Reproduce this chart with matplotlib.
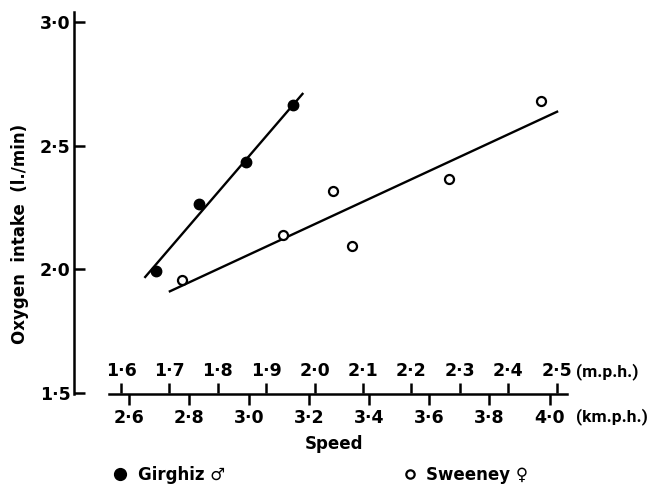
import matplotlib
matplotlib.use("Agg")
import matplotlib.pyplot as plt
from matplotlib.lines import Line2D

plt.rcParams['font.family'] = ['DejaVu Sans']
plt.rcParams['font.weight'] = 'bold'

# ---- data (speed in m.p.h., oxygen intake in l./min) ----
girghiz_mph = [1.672, 1.762, 1.859, 1.955]
girghiz_o2 = [1.994, 2.262, 2.435, 2.666]
girghiz_fit_mph = [1.650, 1.975]
girghiz_fit_o2 = [1.969, 2.709]

sweeney_mph = [1.725, 1.935, 2.037, 2.077, 2.278, 2.467]
sweeney_o2 = [1.957, 2.140, 2.316, 2.093, 2.363, 2.681]
sweeney_fit_mph = [1.701, 2.501]
sweeney_fit_o2 = [1.911, 2.637]

y_ticks = [1.5, 2.0, 2.5, 3.0]
y_labels = ['1·5', '2·0', '2·5', '3·0']
mph_ticks = [1.6, 1.7, 1.8, 1.9, 2.0, 2.1, 2.2, 2.3, 2.4, 2.5]
mph_labels = ['1·6', '1·7', '1·8', '1·9', '2·0', '2·1', '2·2', '2·3', '2·4', '2·5']
kmph_ticks = [2.6, 2.8, 3.0, 3.2, 3.4, 3.6, 3.8, 4.0]
kmph_labels = ['2·6', '2·8', '3·0', '3·2', '3·4', '3·6', '3·8', '4·0']
KM_PER_MILE = 1.609344

# ---- layout ----
W, H = 649, 487
fig = plt.figure(figsize=(W / 100, H / 100), dpi=100)

left_px, right_px = 73.5, 575.0
bottom_px, top_px = 393.5, 12.0
xlim = (1.6 + (left_px - 121) / 484, 1.6 + (right_px - 121) / 484)
ylim = (1.498, 3.04)

ax_rect = [left_px / W, 1 - bottom_px / H, (right_px - left_px) / W,
           (bottom_px - top_px) / H]
ax = fig.add_axes(ax_rect)
ax.set_xlim(*xlim)
ax.set_ylim(*ylim)

for s in ['top', 'right']:
    ax.spines[s].set_visible(False)
ax.spines['left'].set_linewidth(1.8)
ax.spines['bottom'].set_linewidth(1.8)
ax.spines['bottom'].set_bounds(1.6 + (109 - 121) / 484, 1.6 + (567 - 121) / 484)
ax.set_xticks([])
ax.set_yticks(y_ticks)
ax.set_yticklabels(y_labels)
ax.tick_params(axis='y', direction='in', length=8, width=1.8, pad=2,
               labelsize=12.5)

# data
ax.plot(girghiz_fit_mph, girghiz_fit_o2, color='black', lw=1.7)
ax.plot(sweeney_fit_mph, sweeney_fit_o2, color='black', lw=1.7)
ax.plot(girghiz_mph, girghiz_o2, 'o', color='black', markersize=7.5)
ax.plot(sweeney_mph, sweeney_o2, 'o', mfc='white', mec='black', mew=1.6,
        markersize=6.5)

# mph scale (above the axis line)
axm = fig.add_axes([ax_rect[0], ax_rect[1], ax_rect[2], 1e-6])
axm.set_xlim(*xlim)
axm.patch.set_visible(False)
for s in axm.spines.values():
    s.set_visible(False)
axm.set_yticks([])
axm.xaxis.tick_top()
axm.set_xticks(mph_ticks)
axm.set_xticklabels(mph_labels)
axm.tick_params(axis='x', direction='out', length=7.5, width=1.8, pad=2,
                labelsize=12.5)

# km.p.h. scale (below the axis line)
axk = fig.add_axes([ax_rect[0], ax_rect[1], ax_rect[2], 1e-6])
axk.set_xlim(xlim[0] * KM_PER_MILE, xlim[1] * KM_PER_MILE)
axk.patch.set_visible(False)
for s in axk.spines.values():
    s.set_visible(False)
axk.set_yticks([])
axk.set_xticks(kmph_ticks)
axk.set_xticklabels(kmph_labels)
axk.tick_params(axis='x', direction='out', length=8, width=1.8, pad=3,
                labelsize=12.5)

# texts
unit_font = dict(family=['Roboto', 'DejaVu Sans'], weight='bold', fontsize=12.5)
fig.text(576 / W, 1 - 372 / H, '(m.p.h.)', ha='left', va='center', **unit_font)
fig.text(576 / W, 1 - 417 / H, '(km.p.h.)', ha='left', va='center', **unit_font)
fig.text(334.5 / W, 1 - 444 / H, 'Speed', ha='center', va='center', fontsize=12)
fig.text(20 / W, 1 - 234 / H, 'Oxygen  intake  (l./min)', rotation=90,
         ha='center', va='center', fontsize=12)

# legend
h1 = Line2D([], [], ls='none', marker='o', color='black', markersize=8.5)
h2 = Line2D([], [], ls='none', marker='o', mfc='white', mec='black', mew=1.6,
            markersize=6)
fig.legend([h1], ['Girghiz ♂'], loc='center left',
           bbox_to_anchor=(111 / W, 1 - 475 / H), frameon=False,
           handlelength=1.1, handletextpad=0.5, borderpad=0, borderaxespad=0,
           fontsize=12)
fig.legend([h2], ['Sweeney ♀'], loc='center left',
           bbox_to_anchor=(401 / W, 1 - 475 / H), frameon=False,
           handlelength=1.1, handletextpad=0.4, borderpad=0, borderaxespad=0,
           fontsize=12)

fig.savefig('out.png', dpi=100)
